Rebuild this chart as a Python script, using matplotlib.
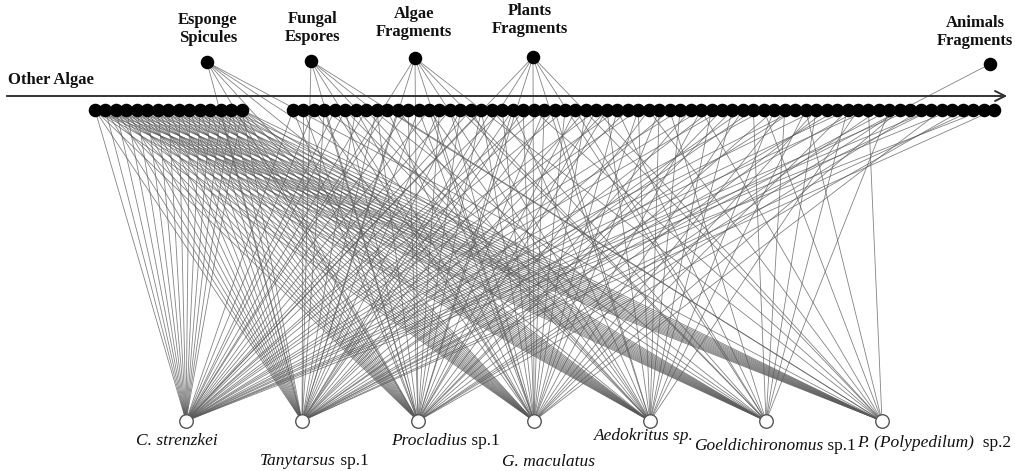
import numpy as np
import matplotlib
matplotlib.use("Agg")
import matplotlib.pyplot as plt
from matplotlib.collections import LineCollection

# ---------------- data ----------------
# predator labels: (italic part, regular part)
predators = [("C. strenzkei", ""), ("Tanytarsus", " sp.1"), ("Procladius", " sp.1"),
             ("G. maculatus", ""), ("Aedokritus sp.", ""),
             ("Goeldichironomus", " sp.1"), ("P. (Polypedilum)", "  sp.2")]
special_prey = ["Esponge\nSpicules", "Fungal\nEspores", "Algae\nFragments", "Plants\nFragments", "Animals\nFragments"]
other_algae_label = "Other Algae"
n_left_algae = 15
n_right_algae = 68

# links: algae in left group (indices), right group (indices), special prey (indices)
left_links = [list(range(15))] * 7
right_links = [
    [0, 2, 4, 5, 7, 9, 11, 13, 15, 17, 18, 20, 23, 24, 26, 29, 31, 33, 37, 39, 41, 45, 48, 50, 53, 55, 59, 61, 63, 66],
    [1, 3, 6, 8, 10, 12, 14, 16, 19, 21, 22, 25, 28, 30, 32, 36, 40, 43, 44, 48, 52, 54, 57, 61, 65, 67],
    [0, 1, 3, 5, 8, 11, 14, 16, 18, 21, 24, 27, 29, 30, 34, 38, 41, 42, 46, 51, 56, 58, 60, 64],
    [2, 4, 6, 9, 12, 13, 15, 18, 20, 22, 24, 26, 28, 31, 33, 35, 39, 43, 47, 50, 53, 58, 62],
    [5, 7, 10, 13, 17, 21, 25, 30, 33, 35, 37, 40, 42, 46, 49, 54],
    [3, 16, 19, 27, 31, 36, 44, 47, 50, 53, 57],
    [9, 23, 29, 34, 39, 45, 49, 55],
]
special_links = [
    [2, 3],
    [0, 1, 2, 3, 4],
    [0, 1, 2, 3],
    [0, 1, 2, 3],
    [0, 1, 2, 3],
    [0, 1, 2, 3],
    [0, 1, 2, 3],
]

# ---------------- layout ----------------
W, H = 1015, 471
fig = plt.figure(figsize=(W / 100, H / 100), dpi=100)
ax = fig.add_axes([0, 0, 1, 1])
ax.set_xlim(0, W)
ax.set_ylim(H, 0)
ax.axis('off')

row_y = 110
left_x = np.linspace(95, 242, n_left_algae)
right_x = np.linspace(293, 994, n_right_algae)
special_xy = [(207, 62), (311, 61), (415, 58), (533, 57), (990, 64)]
pred_x = np.linspace(186, 882, len(predators))
pred_y = 421

segs = []
for p in range(len(predators)):
    px = pred_x[p]
    for i in left_links[p]:
        segs.append([(left_x[i], row_y), (px, pred_y)])
    for i in right_links[p]:
        segs.append([(right_x[i], row_y), (px, pred_y)])
    for s in special_links[p]:
        segs.append([special_xy[s], (px, pred_y)])

ax.add_collection(LineCollection(segs, colors='#5a5a5a', linewidths=0.6, alpha=0.75, zorder=1))

# arrow
ax.annotate("", xy=(1010, 96), xytext=(4, 96),
            arrowprops=dict(arrowstyle='->', color='#333333', lw=1.4, mutation_scale=18), zorder=2)
ax.text(8, 80, other_algae_label, fontsize=12, fontweight='bold', family='Liberation Serif',
        ha='left', va='center', color='#111111')

# algae nodes
ax.scatter(left_x, np.full(n_left_algae, row_y), s=95, c='black', zorder=3, linewidths=0)
ax.scatter(right_x, np.full(n_right_algae, row_y), s=95, c='black', zorder=3, linewidths=0)

# special nodes and labels
label_offsets = [(1, -33), (2, -33), (-1, -35), (-3, -37), (-15, -32)]
for (x, y), lab, (dx, dy) in zip(special_xy, special_prey, label_offsets):
    ax.scatter([x], [y], s=95, c='black', zorder=3, linewidths=0)
    ax.text(x + dx, y + dy, lab, fontsize=12, fontweight='bold', family='Liberation Serif',
            ha='center', va='center', linespacing=1.15, color='#111111')

# predator nodes
ax.scatter(pred_x, np.full(len(predators), pred_y), s=95, facecolors='white',
           edgecolors='#555555', linewidths=1.0, zorder=3)

# predator labels: italic part then regular part, centred as a whole
renderer = fig.canvas.get_renderer()
label_pos = [(177, 441), (314, 461), (445, 441), (549, 462), (644, 436), (775, 446), (934, 443)]
for (ital, reg), (x, y) in zip(predators, label_pos):
    t1 = ax.text(0, y, ital, fontsize=12.5, family='Liberation Serif', style='italic',
                 ha='left', va='center', color='#111111')
    w1 = t1.get_window_extent(renderer).width
    w2 = 0
    t2 = None
    if reg:
        t2 = ax.text(0, y, reg, fontsize=12.5, family='Liberation Serif',
                     ha='left', va='center', color='#111111')
        w2 = t2.get_window_extent(renderer).width
    x0 = x - (w1 + w2) / 2
    t1.set_x(x0)
    if t2 is not None:
        t2.set_x(x0 + w1)

fig.savefig("out.png", dpi=100)
